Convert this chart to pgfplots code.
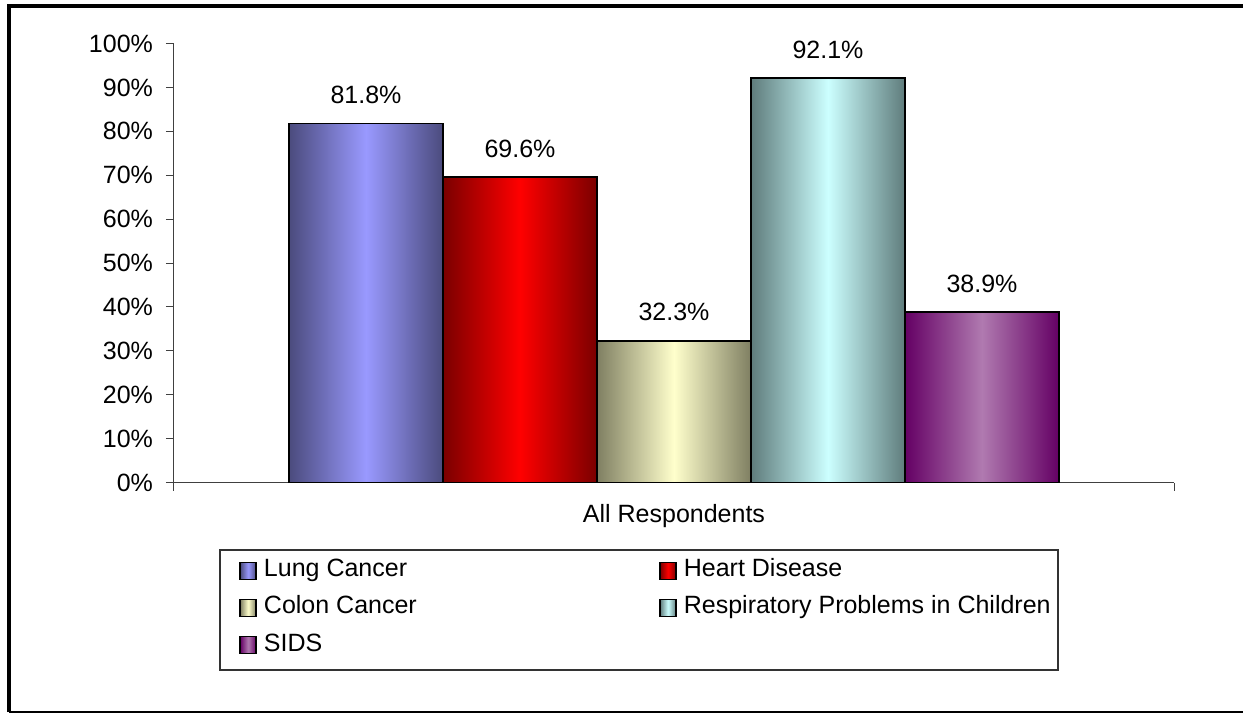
\documentclass[border=0pt]{standalone}
\usepackage{pgfplots}
\pgfplotsset{compat=1.18}
\usepackage{fontspec}
\setmainfont{Liberation Sans}

\definecolor{lungD}{HTML}{4B4B7D}\definecolor{lungL}{HTML}{9999FF}
\definecolor{heartD}{HTML}{7A0000}\definecolor{heartL}{HTML}{FF0000}
\definecolor{colonD}{HTML}{7F7F62}\definecolor{colonL}{HTML}{FFFFCC}
\definecolor{respD}{HTML}{5F7C7C}\definecolor{respL}{HTML}{CCFFFF}
\definecolor{sidsD}{HTML}{640064}\definecolor{sidsL}{HTML}{B07AB0}

\pgfplotsset{
  mybar/.style={ybar, bar width=77pt, bar shift=0pt, draw=black, line width=0.8pt,
    legend image code/.code={\draw[##1] (0pt,-4.25pt) rectangle (8pt,4.25pt);}},
}

\begin{document}
\begin{tikzpicture}[font=\fontsize{12.5}{15}\selectfont]
\path[use as bounding box] (-87pt,-115.25pt) rectangle (534.5pt,241.25pt);
\begin{axis}[
  scale only axis, width=500pt, height=219.5pt,
  xmin=-3.2468, xmax=3.2468, ymin=0, ymax=100,
  axis lines=left, axis line style={-, black!75, line width=0.5pt},
  xtick={-3.2468,3.2468}, xticklabels={},
  ytick={0,10,...,100},
  yticklabel={\pgfmathprintnumber{\tick}\%},
  tick align=outside, major tick length=4pt,
  tick style={black!75, line width=0.5pt},
  yticklabel style={xshift=-3pt},
  /pgf/number format/assume math mode=true,
  clip=false,
  nodes near coords={\pgfmathprintnumber[fixed,fixed zerofill,precision=1]{\pgfplotspointmeta}\%},
  every node near coord/.append style={text=black, yshift=6pt},
  legend columns=2, legend cell align=left,
  legend style={draw=none, fill=none, inner sep=0pt, row sep=6.55pt,
    at={(0.065,-0.1731)}, anchor=north west,
    nodes={inner xsep=3.5pt, inner ysep=0pt, text height=9pt, text depth=3pt},
    /tikz/column 2/.style={column sep=117.7pt}},
]
\addplot[mybar, left color=lungD, right color=lungD, middle color=lungL]
  coordinates {(-2,81.8)};
\addplot[mybar, left color=heartD, right color=heartD, middle color=heartL]
  coordinates {(-1,69.6)};
\addplot[mybar, left color=colonD, right color=colonD, middle color=colonL]
  coordinates {(0,32.3)};
\addplot[mybar, left color=respD, right color=respD, middle color=respL]
  coordinates {(1,92.1)};
\addplot[mybar, left color=sidsD, right color=sidsD, middle color=sidsL]
  coordinates {(2,38.9)};
\legend{Lung Cancer,Heart Disease,Colon Cancer,Respiratory Problems in Children,SIDS}
\node[anchor=base] at (rel axis cs:0.5,0) [yshift=-19.75pt] {All Respondents};
\end{axis}
% legend box and outer frame
\draw[black!80, line width=0.6pt] (23pt,-33.75pt) rectangle (442pt,-93.75pt);
\draw[line width=0.6pt] (-82.5pt,-114.75pt) -- (534.5pt,-114.75pt);
\draw[line width=2pt] (-82.5pt,-114.75pt) -- (-82.5pt,238.25pt) -- (534.5pt,238.25pt);
\end{tikzpicture}
\end{document}
